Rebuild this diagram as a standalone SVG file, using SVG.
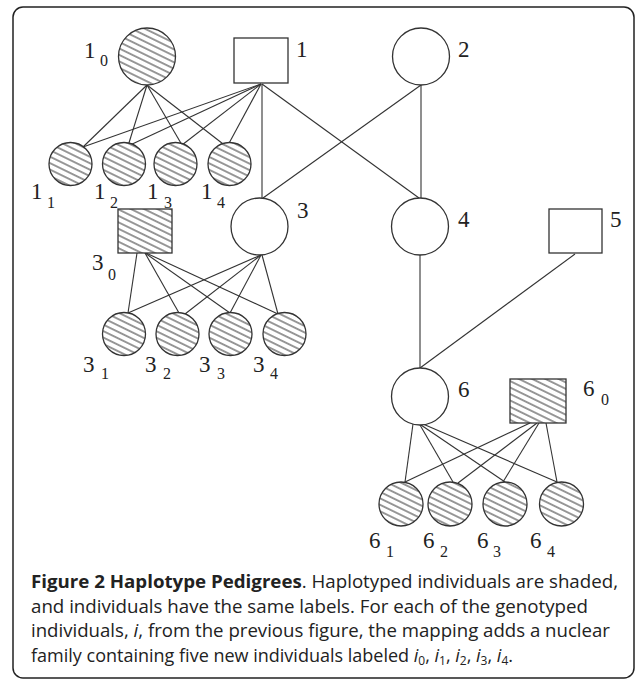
<svg xmlns="http://www.w3.org/2000/svg" width="637" height="681" viewBox="0 0 637 681">
<style>
.nd{stroke:#333;stroke-width:1.3;fill:#fff}
.hd{stroke:#333;stroke-width:1.3;fill:url(#hatch)}
.cn line{stroke:#333;stroke-width:1.1}
.lb{font-family:"Liberation Serif",serif;font-size:23px;fill:#222}
.sb{font-size:16px}
.cap{font-family:"Open Sans",sans-serif;font-size:18px;fill:#222}
</style>
<defs>
<pattern id="hatch" patternUnits="userSpaceOnUse" width="10" height="5.8" patternTransform="rotate(26)">
<rect width="10" height="5.8" fill="#fff"/>
<line x1="0" y1="2.9" x2="10" y2="2.9" stroke="#333" stroke-width="1"/>
</pattern>
</defs>
<rect x="13" y="7" width="621" height="671" rx="10" fill="#fff" stroke="#222" stroke-width="1.5"/>
<g id="connectors" class="cn">
<line x1="147" y1="85" x2="83" y2="147"/>
<line x1="147" y1="85" x2="128" y2="146"/>
<line x1="147" y1="85" x2="182" y2="145"/>
<line x1="147" y1="85" x2="227" y2="147"/>
<line x1="261" y1="84" x2="83" y2="147"/>
<line x1="261" y1="84" x2="128" y2="146"/>
<line x1="261" y1="84" x2="182" y2="145"/>
<line x1="261" y1="84" x2="227" y2="147"/>
<line x1="262" y1="84" x2="262" y2="198"/>
<line x1="262" y1="84" x2="419" y2="198"/>
<line x1="421" y1="85" x2="421" y2="198"/>
<line x1="421" y1="85" x2="263" y2="198"/>
<line x1="420" y1="255" x2="420" y2="368"/>
<line x1="575" y1="254" x2="420" y2="368"/>
<line x1="137" y1="253" x2="128" y2="313"/>
<line x1="145" y1="253" x2="179" y2="313"/>
<line x1="145" y1="253" x2="230" y2="313"/>
<line x1="146" y1="253" x2="278" y2="314"/>
<line x1="261" y1="255" x2="128" y2="313"/>
<line x1="261" y1="255" x2="185" y2="314"/>
<line x1="261" y1="255" x2="230" y2="313"/>
<line x1="262" y1="255" x2="278" y2="314"/>
<line x1="413" y1="424" x2="405" y2="482"/>
<line x1="420" y1="425" x2="453" y2="482"/>
<line x1="421" y1="425" x2="505" y2="482"/>
<line x1="423" y1="424" x2="557" y2="482"/>
<line x1="530" y1="423" x2="405" y2="482"/>
<line x1="537" y1="423" x2="458" y2="483"/>
<line x1="539" y1="423" x2="503" y2="482"/>
<line x1="546" y1="423" x2="557" y2="482"/>
</g>
<g id="n1_0"><circle class="hd" cx="147" cy="56.5" r="28.5"/><text class="lb" x="84" y="58">1<tspan class="sb" x="100" y="66">0</tspan></text></g>
<g id="n1"><rect class="nd" x="234" y="38" width="54" height="45"/><text class="lb" x="296" y="57">1</text></g>
<g id="n2"><circle class="nd" cx="421" cy="56.5" r="28.5"/><text class="lb" x="458" y="57">2</text></g>
<g id="n1_1"><circle class="hd" cx="70.5" cy="164" r="21.5"/><text class="lb" x="31" y="199">1<tspan class="sb" x="47" y="208">1</tspan></text></g>
<g id="n1_2"><circle class="hd" cx="124" cy="164" r="21.5"/><text class="lb" x="94" y="199">1<tspan class="sb" x="110" y="208">2</tspan></text></g>
<g id="n1_3"><circle class="hd" cx="175.5" cy="164" r="21.5"/><text class="lb" x="147" y="199">1<tspan class="sb" x="164" y="208">3</tspan></text></g>
<g id="n1_4"><circle class="hd" cx="229.5" cy="164" r="21.5"/><text class="lb" x="201" y="199">1<tspan class="sb" x="217" y="208">4</tspan></text></g>
<g id="n3"><circle class="nd" cx="259.5" cy="226.5" r="28.5"/><text class="lb" x="297" y="218">3</text></g>
<g id="n4"><circle class="nd" cx="420" cy="226.5" r="28.5"/><text class="lb" x="458" y="227">4</text></g>
<g id="n5"><rect class="nd" x="549" y="209" width="53" height="44"/><text class="lb" x="610" y="227">5</text></g>
<g id="n3_0"><rect class="hd" x="118" y="209" width="54" height="44"/><text class="lb" x="92" y="270">3<tspan class="sb" x="108" y="280">0</tspan></text></g>
<g id="n3_1"><circle class="hd" cx="124" cy="334" r="21.5"/><text class="lb" x="83" y="372">3<tspan class="sb" x="101" y="379">1</tspan></text></g>
<g id="n3_2"><circle class="hd" cx="177.5" cy="334" r="21.5"/><text class="lb" x="145" y="372">3<tspan class="sb" x="163" y="379">2</tspan></text></g>
<g id="n3_3"><circle class="hd" cx="230.5" cy="334" r="21.5"/><text class="lb" x="199" y="372">3<tspan class="sb" x="217" y="379">3</tspan></text></g>
<g id="n3_4"><circle class="hd" cx="284.5" cy="334" r="21.5"/><text class="lb" x="253" y="372">3<tspan class="sb" x="270" y="379">4</tspan></text></g>
<g id="n6"><circle class="nd" cx="420" cy="396.5" r="28.5"/><text class="lb" x="458" y="397">6</text></g>
<g id="n6_0"><rect class="hd" x="510" y="379" width="56" height="44"/><text class="lb" x="583" y="396">6<tspan class="sb" x="601" y="405">0</tspan></text></g>
<g id="n6_1"><circle class="hd" cx="401" cy="504" r="22"/><text class="lb" x="369" y="548">6<tspan class="sb" x="386" y="557">1</tspan></text></g>
<g id="n6_2"><circle class="hd" cx="450" cy="504" r="22"/><text class="lb" x="423" y="548">6<tspan class="sb" x="440" y="557">2</tspan></text></g>
<g id="n6_3"><circle class="hd" cx="505" cy="504" r="22"/><text class="lb" x="477" y="548">6<tspan class="sb" x="493" y="557">3</tspan></text></g>
<g id="n6_4"><circle class="hd" cx="561.5" cy="504" r="22"/><text class="lb" x="530" y="548">6<tspan class="sb" x="547" y="557">4</tspan></text></g>
<g id="caption" class="cap">
<text x="31" y="588" textLength="587" lengthAdjust="spacingAndGlyphs"><tspan font-weight="bold">Figure 2 Haplotype Pedigrees</tspan>. Haplotyped individuals are shaded,</text>
<text x="31" y="612.5" textLength="557" lengthAdjust="spacingAndGlyphs">and individuals have the same labels. For each of the genotyped</text>
<text x="31" y="637" textLength="579" lengthAdjust="spacingAndGlyphs">individuals, <tspan font-style="italic">i</tspan>, from the previous figure, the mapping adds a nuclear</text>
<text x="31" y="661.5" textLength="482" lengthAdjust="spacingAndGlyphs">family containing five new individuals labeled <tspan font-style="italic">i</tspan><tspan font-size="12" dy="3">0</tspan><tspan dy="-3">, </tspan><tspan font-style="italic">i</tspan><tspan font-size="12" dy="3">1</tspan><tspan dy="-3">, </tspan><tspan font-style="italic">i</tspan><tspan font-size="12" dy="3">2</tspan><tspan dy="-3">, </tspan><tspan font-style="italic">i</tspan><tspan font-size="12" dy="3">3</tspan><tspan dy="-3">, </tspan><tspan font-style="italic">i</tspan><tspan font-size="12" dy="3">4</tspan><tspan dy="-3">.</tspan></text>
</g>
</svg>
